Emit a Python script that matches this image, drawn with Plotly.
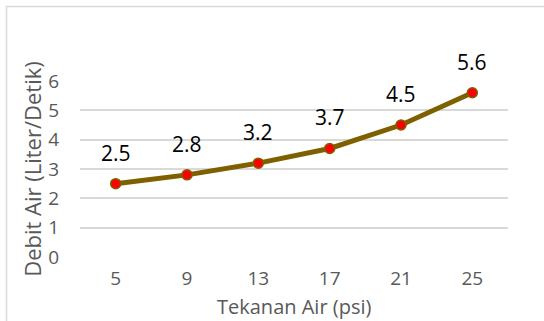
import plotly.graph_objects as go

# Water flow rate versus water pressure
tekanan = ["5", "9", "13", "17", "21", "25"]
debit = [2.5, 2.8, 3.2, 3.7, 4.5, 5.6]
y_ticks = [0, 1, 2, 3, 4, 5, 6]

FONT = "Open Sans"
GRAY = "#595959"
GRID = "#d9d9d9"

W, H = 544, 321
ML, MR, MT, MB = 80, 36, 81, 64
pw, ph = W - ML - MR, H - MT - MB

fig = go.Figure()
fig.add_trace(go.Scatter(
    x=tekanan, y=debit, mode="lines+markers",
    line=dict(color="#7f6000", width=5),
    marker=dict(color="#ff0000", size=10, line=dict(color="#7f6000", width=1.5)),
    cliponaxis=False, hoverinfo="skip",
))

# value labels above each point (category axes take the index position)
for i, yv in enumerate(debit):
    fig.add_annotation(x=i, y=yv, text=f"{yv}", showarrow=False,
                       yshift=31, yanchor="middle",
                       font=dict(family=FONT, size=21, color="black"))

# x-axis title, sitting on the bottom edge of the figure
fig.add_annotation(xref="paper", yref="paper", x=0.5, y=-(H - (H - MB)) / ph,
                   text="Tekanan Air (psi)", showarrow=False,
                   xanchor="center", yanchor="bottom", borderpad=0,
                   font=dict(family=FONT, size=20, color=GRAY))

# chart-area border
fig.add_shape(type="rect", xref="paper", yref="paper",
              x0=(6.5 - ML) / pw, x1=(W + 20 - ML) / pw,
              y0=-(H + 20 - (H - MB)) / ph, y1=(H - MB - 6.5) / ph,
              line=dict(color=GRID, width=1.5), fillcolor="rgba(0,0,0,0)",
              layer="below")

fig.update_layout(
    width=W, height=H,
    margin=dict(l=ML, r=MR, t=MT, b=MB, autoexpand=False),
    paper_bgcolor="white", plot_bgcolor="white",
    showlegend=False,
    font=dict(family=FONT, size=20, color=GRAY),
    xaxis=dict(
        type="category", range=[-0.5, 5.5], automargin=False,
        showgrid=False, showline=False, zeroline=False,
        ticks="", ticklabelstandoff=8,
        tickfont=dict(family=FONT, size=19, color=GRAY),
    ),
    yaxis=dict(
        range=[0, 6], tickvals=y_ticks, automargin=False,
        showgrid=True, gridcolor=GRID, gridwidth=1.5,
        zeroline=False, showline=False, ticks="",
        ticklabelstandoff=20,
        tickfont=dict(family=FONT, size=19, color=GRAY),
        title=dict(text="Debit Air (Liter/Detik)", standoff=0,
                   font=dict(family=FONT, size=22, color=GRAY)),
    ),
)

fig.write_html("out.html")
